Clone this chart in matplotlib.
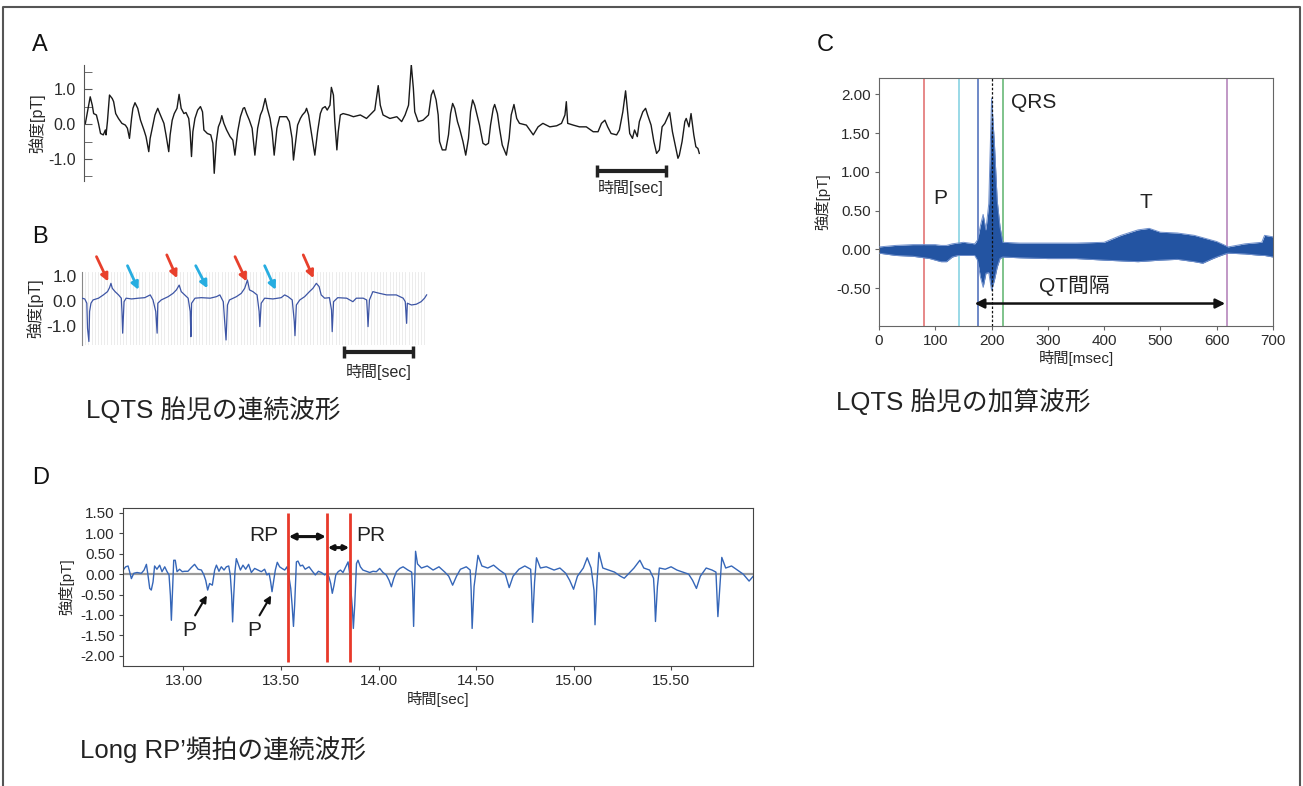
import matplotlib
matplotlib.use('Agg')
import matplotlib.pyplot as plt
from matplotlib.ticker import FixedLocator, MultipleLocator, FormatStrFormatter
from matplotlib.lines import Line2D

plt.rcParams['font.family'] = ['Liberation Sans', 'Noto Sans CJK JP']

# ---------------- data ----------------
# Panel A: continuous waveform (time s, intensity pT)
A_T = [0.00, 0.04, 0.07, 0.10, 0.12, 0.16, 0.19, 0.22, 0.26, 0.29, 0.30, 0.32, 0.35, 0.39, 0.41, 0.44,
       0.48, 0.53, 0.58, 0.61, 0.64, 0.67, 0.69, 0.72, 0.76, 0.80, 0.85, 0.88, 0.92, 0.94, 0.98, 1.01,
       1.05, 1.08, 1.11, 1.14, 1.17, 1.21, 1.23, 1.26, 1.29, 1.33, 1.36, 1.39, 1.43, 1.46, 1.50, 1.52,
       1.54, 1.56, 1.59, 1.63, 1.67, 1.70, 1.72, 1.77, 1.82, 1.85, 1.87, 1.90, 1.93, 1.96, 1.98, 2.01,
       2.05, 2.10, 2.14, 2.17, 2.21, 2.25, 2.29, 2.31, 2.34, 2.38, 2.42, 2.44, 2.46, 2.50, 2.54, 2.57,
       2.61, 2.64, 2.68, 2.71, 2.74, 2.78, 2.82, 2.87, 2.92, 2.96, 3.00, 3.02, 3.04, 3.08, 3.12, 3.15,
       3.19, 3.21, 3.24, 3.27, 3.30, 3.33, 3.37, 3.41, 3.44, 3.48, 3.51, 3.55, 3.57, 3.60, 3.62, 3.65,
       3.67, 3.70, 3.74, 3.82, 3.89, 3.99, 4.08, 4.15, 4.20, 4.25, 4.28, 4.32, 4.42, 4.52, 4.59, 4.64,
       4.69, 4.73, 4.76, 4.78, 4.83, 4.90, 4.98, 5.02, 5.05, 5.09, 5.12, 5.14, 5.18, 5.23, 5.27, 5.30,
       5.33, 5.36, 5.40, 5.43, 5.48, 5.52, 5.56, 5.59, 5.62, 5.65, 5.68, 5.72, 5.77, 5.81, 5.85, 5.88,
       5.92, 5.94, 5.98, 6.01, 6.05, 6.11, 6.15, 6.18, 6.22, 6.26, 6.30, 6.40, 6.50, 6.57, 6.64, 6.74,
       6.84, 6.91, 6.96, 6.98, 7.00, 7.08, 7.17, 7.27, 7.37, 7.44, 7.49, 7.54, 7.58, 7.63, 7.71, 7.75,
       7.80, 7.84, 7.87, 7.90, 7.94, 7.97, 8.01, 8.04, 8.09, 8.13, 8.16, 8.21, 8.25, 8.29, 8.33, 8.37,
       8.41, 8.48, 8.52, 8.55, 8.60, 8.62, 8.66, 8.70, 8.72, 8.76, 8.79, 8.83, 8.86, 8.89, 8.91]
A_V = [0.02, 0.45, 0.78, 0.54, 0.30, 0.26, 0.02, -0.27, -0.31, -0.17, -0.31, 0.07, 0.83, 0.73, 0.64, 0.30,
       0.16, 0.02, -0.03, -0.12, -0.41, 0.16, 0.45, 0.61, 0.45, 0.11, -0.17, -0.36, -0.79, -0.41, -0.03, 0.26,
       0.45, 0.30, 0.16, 0.02, -0.31, -0.79, -0.31, 0.11, 0.30, 0.45, 0.85, 0.45, 0.30, 0.33, 0.16, -0.22,
       -0.93, -0.22, 0.16, 0.40, 0.50, 0.35, -0.17, -0.27, -0.31, -0.55, -1.41, -0.50, -0.08, 0.07, 0.24, 0.02,
       -0.17, -0.36, -0.46, -0.89, -0.22, 0.21, 0.45, 0.47, 0.30, 0.11, -0.12, -0.50, -0.89, -0.12, 0.26, 0.40,
       0.73, 0.45, 0.16, -0.22, -0.89, -0.12, 0.21, 0.21, 0.21, 0.07, -0.41, -1.03, -0.70, -0.03, 0.16, 0.26,
       0.35, 0.45, 0.26, -0.12, -0.50, -0.89, -0.22, 0.30, 0.45, 0.50, 0.40, 0.54, 1.05, 0.83, 0.07, -0.74,
       -0.22, 0.26, 0.30, 0.26, 0.21, 0.26, 0.16, 0.30, 0.40, 1.10, 0.54, 0.26, 0.16, 0.21, 0.07, 0.26,
       0.54, 1.70, 1.02, 0.35, 0.07, 0.11, 0.26, 0.83, 0.97, 0.69, 0.26, -0.50, -0.74, -0.74, -0.31, 0.30,
       0.59, 0.45, 0.07, -0.12, -0.50, -0.89, -0.41, 0.35, 0.69, 0.54, 0.30, -0.03, -0.55, -0.60, -0.55, -0.03,
       0.45, 0.56, 0.30, -0.12, -0.60, -0.89, -0.41, 0.26, 0.56, 0.16, 0.02, -0.03, -0.31, -0.08, 0.02, -0.08,
       -0.05, 0.02, 0.26, 0.64, 0.02, -0.03, -0.08, -0.08, -0.22, -0.22, 0.02, 0.11, -0.08, -0.27, -0.31, -0.17,
       0.35, 0.95, 0.35, -0.27, -0.41, -0.17, -0.36, 0.07, 0.35, 0.45, 0.26, -0.03, -0.50, -0.84, -0.74, -0.08,
       0.02, 0.33, -0.22, -0.50, -0.98, -0.89, -0.50, 0.07, 0.16, -0.08, 0.30, -0.31, -0.65, -0.70, -0.84]
A_YTICKS = [-1.0, 0.0, 1.0]
A_YMINOR = [-1.5, -0.5, 0.5, 1.5]
A_BAR_START, A_BAR_LEN, A_BAR_Y = 7.42, 1.0, -1.34

# Panel B: continuous waveform of LQTS fetus
B_T = [0.00, 0.04, 0.07, 0.08, 0.10, 0.11, 0.13, 0.16, 0.24, 0.31, 0.37, 0.40, 0.42, 0.44, 0.48, 0.53,
       0.57, 0.58, 0.59, 0.61, 0.64, 0.72, 0.82, 0.91, 0.99, 1.03, 1.07, 1.09, 1.10, 1.15, 1.25, 1.32,
       1.37, 1.41, 1.44, 1.49, 1.54, 1.57, 1.58, 1.59, 1.64, 1.73, 1.86, 1.95, 2.00, 2.05, 2.07, 2.09,
       2.11, 2.14, 2.24, 2.31, 2.36, 2.40, 2.43, 2.48, 2.54, 2.57, 2.58, 2.60, 2.65, 2.77, 2.89, 2.94,
       2.99, 3.05, 3.08, 3.09, 3.11, 3.16, 3.23, 3.30, 3.35, 3.40, 3.44, 3.47, 3.52, 3.59, 3.62, 3.63,
       3.65, 3.71, 3.84, 3.93, 3.98, 4.08, 4.13, 4.14, 4.15, 4.17, 4.22, 4.32, 4.42, 4.56, 4.66, 4.69,
       4.71, 4.72, 4.78, 4.85, 4.92, 4.97, 5.00]
B_V = [0.11, 0.08, -0.09, -1.08, -1.61, -0.42, -0.09, 0.04, 0.11, 0.24, 0.37, 0.53, 0.70, 0.50, 0.37, 0.24,
       0.11, -0.42, -1.28, -0.03, 0.11, 0.08, 0.11, 0.13, 0.24, 0.04, -0.42, -1.28, -0.09, 0.04, 0.17, 0.30,
       0.44, 0.63, 0.37, 0.24, 0.11, -0.42, -1.42, -0.09, 0.11, 0.13, 0.11, 0.17, 0.24, -0.03, -0.82, -1.55,
       -0.16, 0.04, 0.17, 0.30, 0.50, 0.83, 0.44, 0.37, 0.24, -0.42, -1.02, -0.09, 0.11, 0.08, 0.13, 0.24,
       0.17, 0.04, -0.82, -1.38, -0.16, 0.04, 0.17, 0.37, 0.50, 0.70, 0.57, 0.24, 0.11, 0.13, -0.36, -1.22,
       -0.03, 0.13, 0.11, -0.03, 0.11, 0.11, 0.04, -0.42, -1.02, 0.04, 0.37, 0.30, 0.24, 0.24, 0.11, -0.03,
       -0.89, -0.09, -0.16, -0.13, -0.03, 0.11, 0.24]
B_YTICKS = [-1.0, 0.0, 1.0]
B_RED_HEAD = [(0.38, 0.77), (1.38, 0.90), (2.39, 0.77), (3.36, 0.90)]
B_RED_TAIL = [(0.21, 1.76), (1.23, 1.83), (2.22, 1.76), (3.21, 1.83)]
B_BLUE_HEAD = [(0.82, 0.44), (1.82, 0.50), (2.81, 0.44)]
B_BLUE_TAIL = [(0.66, 1.40), (1.65, 1.40), (2.65, 1.40)]
B_BAR_START, B_BAR_LEN, B_BAR_Y = 3.80, 1.0, -2.02

# Panel C: averaged waveform envelope (ms, pT)
C_T = [0, 30, 60, 90, 100, 110, 120, 130, 140, 150, 170, 175, 180, 185, 190, 195, 200, 205, 210, 215,
       220, 250, 300, 350, 400, 430, 460, 480, 500, 530, 560, 575, 590, 600, 615, 620, 650, 680, 685, 700]
C_UP = [0.03, 0.05, 0.06, 0.06, 0.06, 0.05, 0.05, 0.07, 0.08, 0.09, 0.07, 0.12, 0.30, 0.45, 0.25, 0.59,
        1.95, 1.37, 0.63, 0.29, 0.09, 0.08, 0.08, 0.08, 0.09, 0.18, 0.25, 0.27, 0.22, 0.21, 0.18, 0.15,
        0.12, 0.10, 0.05, 0.03, 0.07, 0.09, 0.18, 0.16]
C_LO = [-0.05, -0.08, -0.09, -0.12, -0.14, -0.16, -0.16, -0.10, -0.08, -0.08, -0.08, -0.14, -0.35, -0.49,
        -0.31, -0.30, -0.53, -0.40, -0.23, -0.12, -0.10, -0.11, -0.12, -0.12, -0.14, -0.15, -0.16, -0.15,
        -0.14, -0.13, -0.16, -0.18, -0.13, -0.10, -0.06, -0.05, -0.06, -0.08, -0.08, -0.10]
C_MARK_T = [80, 143, 175, 220, 619]
C_MARK_COL = ['#e06868', '#7fcfe0', '#4668b8', '#5cb36c', '#b07cb6']
C_R_PEAK = 200
C_QT = (170, 615, -0.70)

# Panel D: Long RP' tachycardia
D_T = [12.690, 12.704, 12.716, 12.724, 12.733, 12.745, 12.762, 12.784, 12.798, 12.810, 12.818, 12.827,
       12.835, 12.844, 12.852, 12.864, 12.878, 12.890, 12.904, 12.916, 12.926, 12.933, 12.938, 12.943,
       12.950, 12.958, 12.967, 12.980, 12.994, 13.006, 13.023, 13.040, 13.057, 13.075, 13.092, 13.104,
       13.114, 13.124, 13.134, 13.148, 13.160, 13.169, 13.182, 13.194, 13.208, 13.220, 13.232, 13.240,
       13.247, 13.252, 13.257, 13.264, 13.271, 13.280, 13.292, 13.305, 13.319, 13.334, 13.348, 13.365,
       13.382, 13.399, 13.416, 13.428, 13.439, 13.447, 13.454, 13.463, 13.471, 13.481, 13.493, 13.505,
       13.519, 13.531, 13.541, 13.550, 13.557, 13.564, 13.570, 13.579, 13.587, 13.599, 13.611, 13.624,
       13.644, 13.661, 13.676, 13.692, 13.707, 13.724, 13.736, 13.746, 13.755, 13.763, 13.772, 13.781,
       13.793, 13.805, 13.818, 13.832, 13.844, 13.852, 13.859, 13.866, 13.871, 13.878, 13.887, 13.895,
       13.907, 13.920, 13.937, 13.955, 13.972, 13.989, 14.006, 14.023, 14.040, 14.054, 14.066, 14.078,
       14.092, 14.109, 14.126, 14.151, 14.170, 14.175, 14.180, 14.185, 14.190, 14.200, 14.220, 14.250,
       14.280, 14.310, 14.340, 14.360, 14.380, 14.400, 14.420, 14.450, 14.470, 14.475, 14.480, 14.490,
       14.510, 14.530, 14.560, 14.590, 14.620, 14.650, 14.670, 14.690, 14.720, 14.750, 14.780, 14.785,
       14.790, 14.800, 14.810, 14.830, 14.860, 14.900, 14.930, 14.960, 14.980, 15.000, 15.020, 15.050,
       15.070, 15.090, 15.105, 15.110, 15.120, 15.130, 15.150, 15.180, 15.210, 15.240, 15.260, 15.280,
       15.310, 15.340, 15.360, 15.390, 15.410, 15.415, 15.420, 15.430, 15.440, 15.470, 15.500, 15.530,
       15.560, 15.590, 15.610, 15.630, 15.650, 15.680, 15.710, 15.730, 15.735, 15.740, 15.750, 15.760,
       15.780, 15.810, 15.840, 15.870, 15.900, 15.930]
D_V = [0.10, 0.18, 0.20, 0.06, -0.11, 0.02, 0.04, 0.02, 0.10, 0.24, -0.02, -0.35,
       -0.39, -0.19, 0.20, 0.12, 0.22, 0.06, 0.18, 0.06, -0.02, -0.52, -1.13, -0.52,
       0.34, 0.34, 0.06, 0.12, 0.06, 0.07, 0.07, 0.16, 0.24, 0.12, 0.10, -0.01,
       -0.15, -0.39, -0.23, -0.27, 0.10, 0.22, 0.07, 0.18, 0.10, 0.18, 0.20, -0.02,
       -0.52, -1.17, -0.60, 0.06, 0.38, 0.26, 0.10, 0.22, 0.12, 0.24, 0.04, 0.14,
       0.10, 0.06, 0.12, -0.02, 0.02, -0.19, -0.43, -0.15, 0.10, 0.29, 0.18, 0.14,
       0.10, 0.18, -0.07, -0.35, -0.76, -1.28, -0.76, 0.30, 0.32, 0.20, 0.22, 0.12,
       0.18, 0.07, -0.02, 0.07, 0.04, -0.02, 0.02, -0.07, -0.23, -0.47, -0.27, -0.02,
       0.06, 0.10, 0.04, 0.18, 0.30, 0.02, -0.43, -0.84, -1.33, -0.76, 0.26, 0.34,
       0.18, 0.10, 0.07, 0.04, 0.07, 0.06, 0.14, 0.04, -0.02, -0.15, -0.31, -0.11,
       0.06, 0.14, 0.18, 0.10, 0.05, -0.40, -1.28, -0.30, 0.56, 0.25, 0.15, 0.20,
       0.10, 0.18, 0.05, -0.05, -0.27, -0.05, 0.12, 0.18, 0.10, -0.40, -1.33, -0.30,
       0.46, 0.20, 0.15, 0.22, 0.10, 0.00, -0.33, -0.05, 0.12, 0.20, 0.12, -0.40,
       -1.18, -0.20, 0.40, 0.15, 0.18, 0.10, 0.15, 0.02, -0.15, -0.37, -0.05, 0.15,
       0.40, 0.15, -0.40, -1.24, -0.20, 0.53, 0.15, 0.10, 0.05, -0.05, -0.10, 0.00,
       0.15, 0.34, 0.15, 0.10, -0.10, -0.50, -1.16, -0.30, 0.15, 0.12, 0.18, 0.10,
       0.05, 0.00, -0.15, -0.35, -0.05, 0.15, 0.10, 0.05, -0.50, -1.04, -0.30, 0.41,
       0.15, 0.20, 0.10, 0.00, -0.17, 0.00]
D_YTICKS = [-2.0, -1.5, -1.0, -0.5, 0.0, 0.5, 1.0, 1.5]
D_XTICKS = [13.0, 13.5, 14.0, 14.5, 15.0, 15.5]
D_RED_T = [13.538, 13.734, 13.852]
D_RED_RANGE = (-2.15, 1.49)
D_RP = (13.54, 13.73, 0.92)
D_PR = (13.74, 13.85, 0.65)
D_P_LABEL = [(13.03, -1.37), (13.365, -1.37)]
D_P_TAIL = [(13.06, -1.01), (13.39, -1.01)]
D_P_HEAD = [(13.12, -0.52), (13.45, -0.52)]

# ---------------- layout helpers ----------------
W, H = 1303, 786
fig = plt.figure(figsize=(W / 100, H / 100), dpi=100)


def box(x0, y0, x1, y1):
    return [x0 / W, 1 - y1 / H, (x1 - x0) / W, (y1 - y0) / H]


TXT = '#2a2a2a'
fig.add_artist(Line2D([3 / W, 3 / W, 1300 / W, 1300 / W], [0, 1 - 7 / H, 1 - 7 / H, 0],
                      color='#555555', lw=1.5, transform=fig.transFigure))

# panel letters
for lab, (x, y) in {'A': (40, 45), 'B': (40, 237), 'C': (825, 45), 'D': (41, 478)}.items():
    fig.text(x / W, 1 - y / H, lab, fontsize=17, ha='center', va='center', color='#111')

# titles
fig.text(86 / W, 1 - 410 / H, 'LQTS 胎児の連続波形', fontsize=18.5, va='center', ha='left', color='#222')
fig.text(836 / W, 1 - 402 / H, 'LQTS 胎児の加算波形', fontsize=18.5, va='center', ha='left', color='#222')
fig.text(80 / W, 1 - 750 / H, 'Long RP’頻拍の連続波形', fontsize=18.5, va='center', ha='left', color='#222')


def scalebar(ax, x0, length, y):
    ax.plot([x0, x0 + length], [y, y], color='#222', lw=3, solid_capstyle='butt', clip_on=False)
    ax.plot([x0, x0 + length], [y, y], ls='none', marker='|', ms=9, mew=2.5, color='#222', clip_on=False)


# ---------------- Panel A ----------------
axA = fig.add_axes(box(84, 65, 700, 181))
axA.patch.set_alpha(0)
axA.plot(A_T, A_V, color='#1a1a1a', lw=1.0)
axA.set_xlim(-0.02, 8.92)
axA.set_ylim(-1.63, 1.69)
for s in ['top', 'right', 'bottom']:
    axA.spines[s].set_visible(False)
axA.spines['left'].set_color('#555')
axA.set_xticks([])
axA.yaxis.set_major_locator(FixedLocator(A_YTICKS))
axA.yaxis.set_minor_locator(FixedLocator(A_YMINOR))
axA.yaxis.set_major_formatter(FormatStrFormatter('%.1f'))
axA.tick_params(axis='y', which='both', direction='in', length=6, color='#555',
                labelsize=11.5, labelcolor=TXT, pad=6)
axA.set_ylabel('強度[pT]', fontsize=11.5, color=TXT, labelpad=2)
scalebar(axA, A_BAR_START, A_BAR_LEN, A_BAR_Y)
axA.text(A_BAR_START + A_BAR_LEN / 2, -1.83, '時間[sec]', ha='center', va='center', fontsize=11.5, color=TXT)

# ---------------- Panel B ----------------
axB = fig.add_axes(box(82, 272, 428, 345))
axB.patch.set_alpha(0)
axB.plot(B_T, B_V, color='#3d55a5', lw=0.9, zorder=3)
axB.set_xlim(0, 5.02)
axB.set_ylim(-1.75, 1.15)
for s in ['top', 'right', 'bottom']:
    axB.spines[s].set_visible(False)
axB.spines['left'].set_color('#888')
axB.xaxis.set_minor_locator(MultipleLocator(0.046))
axB.grid(True, which='minor', axis='x', color='#e9e9e9', lw=0.6, zorder=0)
axB.set_xticks([])
axB.tick_params(axis='x', which='both', length=0)
axB.yaxis.set_major_locator(FixedLocator(B_YTICKS))
axB.yaxis.set_major_formatter(FormatStrFormatter('%.1f'))
axB.tick_params(axis='y', length=0, labelsize=12.5, labelcolor=TXT, pad=4)
axB.set_ylabel('強度[pT]', fontsize=11.5, color=TXT, labelpad=2)
for head, tail in zip(B_RED_HEAD, B_RED_TAIL):
    axB.annotate('', xy=head, xytext=tail, annotation_clip=False,
                 arrowprops=dict(arrowstyle='-|>', color='#e8402c', lw=2, mutation_scale=11, shrinkA=0, shrinkB=0))
for head, tail in zip(B_BLUE_HEAD, B_BLUE_TAIL):
    axB.annotate('', xy=head, xytext=tail, annotation_clip=False,
                 arrowprops=dict(arrowstyle='-|>', color='#27ade0', lw=2, mutation_scale=11, shrinkA=0, shrinkB=0))
scalebar(axB, B_BAR_START, B_BAR_LEN, B_BAR_Y)
axB.text(B_BAR_START + B_BAR_LEN / 2, -2.82, '時間[sec]', ha='center', va='center', fontsize=11.5, color=TXT)

# ---------------- Panel C ----------------
axC = fig.add_axes(box(879, 78, 1273, 326))
for x, c in zip(C_MARK_T, C_MARK_COL):
    axC.axvline(x, color=c, lw=1.1, zorder=1)
axC.fill_between(C_T, C_LO, C_UP, color='#2354a2', lw=0, zorder=2)
axC.plot(C_T, C_UP, color='#6f8fcb', lw=0.7, zorder=3)
axC.plot(C_T, C_LO, color='#6f8fcb', lw=0.7, zorder=3)
axC.axvline(C_R_PEAK, color='#111', lw=0.9, ls=(0, (2, 1.5)), zorder=4)
axC.set_xlim(0, 700)
axC.set_ylim(-0.99, 2.21)
axC.xaxis.set_major_locator(MultipleLocator(100))
axC.yaxis.set_major_locator(FixedLocator([-0.5, 0.0, 0.5, 1.0, 1.5, 2.0]))
axC.yaxis.set_major_formatter(FormatStrFormatter('%.2f'))
for s in axC.spines.values():
    s.set_color('#666')
axC.tick_params(axis='both', direction='out', length=3, color='#666', labelsize=11, labelcolor=TXT, pad=3)
axC.set_ylabel('強度[pT]', fontsize=11, color=TXT, labelpad=4)
axC.set_xlabel('時間[msec]', fontsize=11, color=TXT, labelpad=1)
axC.text(108, 0.66, 'P', fontsize=15, ha='center', va='center', color='#222')
axC.text(274, 1.90, 'QRS', fontsize=15, ha='center', va='center', color='#222')
axC.text(474, 0.60, 'T', fontsize=15, ha='center', va='center', color='#222')
axC.text(348, -0.47, 'QT間隔', fontsize=15, ha='center', va='center', color='#222')
axC.annotate('', xy=(C_QT[0], C_QT[2]), xytext=(C_QT[1], C_QT[2]),
             arrowprops=dict(arrowstyle='<|-|>', color='#111', lw=1.8, mutation_scale=14, shrinkA=0, shrinkB=0))

# ---------------- Panel D ----------------
axD = fig.add_axes(box(123, 508, 753, 666))
axD.axhline(0, color='#9a9a9a', lw=1.6, zorder=1)
axD.plot(D_T, D_V, color='#3566b8', lw=1.0, zorder=2)
axD.vlines(D_RED_T, D_RED_RANGE[0], D_RED_RANGE[1], color='#e8392a', lw=2, zorder=3)
axD.set_xlim(12.69, 15.92)
axD.set_ylim(-2.25, 1.62)
axD.xaxis.set_major_locator(FixedLocator(D_XTICKS))
axD.yaxis.set_major_locator(FixedLocator(D_YTICKS))
axD.xaxis.set_major_formatter(FormatStrFormatter('%.2f'))
axD.yaxis.set_major_formatter(FormatStrFormatter('%.2f'))
for s in axD.spines.values():
    s.set_color('#444')
axD.tick_params(axis='both', direction='out', length=3, color='#444', labelsize=11, labelcolor=TXT, pad=3)
axD.set_ylabel('強度[pT]', fontsize=11, color=TXT, labelpad=4)
axD.set_xlabel('時間[sec]', fontsize=11, color=TXT, labelpad=2)
axD.annotate('', xy=(D_RP[0], D_RP[2]), xytext=(D_RP[1], D_RP[2]),
             arrowprops=dict(arrowstyle='<|-|>', color='#111', lw=2.2, mutation_scale=9, shrinkA=0, shrinkB=0))
axD.annotate('', xy=(D_PR[0], D_PR[2]), xytext=(D_PR[1], D_PR[2]),
             arrowprops=dict(arrowstyle='<|-|>', color='#111', lw=2.2, mutation_scale=7, shrinkA=0, shrinkB=0))
axD.text(13.41, 0.94, 'RP', fontsize=15, ha='center', va='center', color='#222')
axD.text(13.96, 0.94, 'PR', fontsize=15, ha='center', va='center', color='#222')
for (lx, ly), tail, head in zip(D_P_LABEL, D_P_TAIL, D_P_HEAD):
    axD.text(lx, ly, 'P', fontsize=15, ha='center', va='center', color='#222')
    axD.annotate('', xy=head, xytext=tail,
                 arrowprops=dict(arrowstyle='-|>', color='#111', lw=1.5, mutation_scale=10, shrinkA=0, shrinkB=0))

fig.savefig('out.png', dpi=100)
